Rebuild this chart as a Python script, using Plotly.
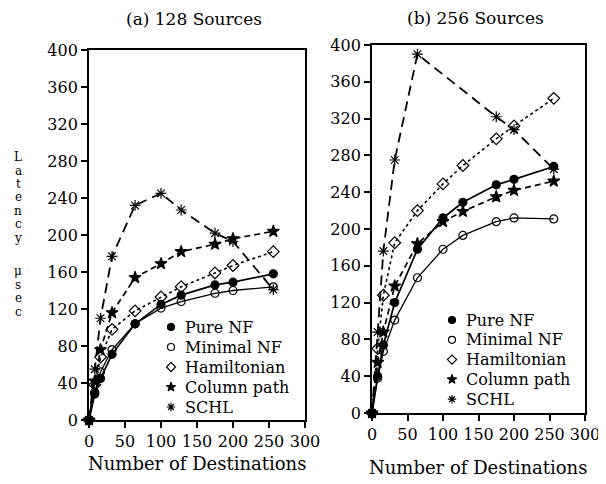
import plotly.graph_objects as go

# ---------------- data ----------------
destinations = [0, 8, 16, 32, 64, 100, 128, 175, 200, 256]

# (a) 128 sources
pure_nf_a = [0, 28, 45, 71, 104, 125, 135, 146, 149, 158]
minimal_nf_a = [0, 30, 52, 76, 104, 121, 128, 137, 140, 144]
hamiltonian_a = [0, 38, 68, 98, 118, 133, 144, 159, 167, 182]
column_path_a = [0, 42, 76, 116, 154, 169, 182, 190, 196, 204]
schl_a = [0, 55, 110, 177, 232, 245, 227, 202, 193, 141]

# (b) 256 sources
pure_nf_b = [0, 40, 74, 120, 178, 212, 229, 248, 254, 268]
minimal_nf_b = [0, 38, 67, 101, 147, 178, 193, 208, 212, 211]
hamiltonian_b = [0, 70, 128, 185, 220, 249, 269, 298, 312, 342]
column_path_b = [0, 55, 88, 138, 184, 208, 219, 235, 242, 252]
schl_b = [0, 88, 176, 275, 390, None, None, 322, 308, 265]

series_names = ["Pure NF", "Minimal NF", "Hamiltonian", "Column path", "SCHL"]
x_ticks = [0, 50, 100, 150, 200, 250, 300]
y_ticks = [0, 40, 80, 120, 160, 200, 240, 280, 320, 360, 400]
panel_titles = ["(a) 128 Sources", "(b) 256 Sources"]
x_title = "Number of Destinations"
y_title_top = "Latency"
y_title_bottom = "μsec"

# ---------------- styles ----------------
FONT = "DejaVu Serif"
styles = {
    "Pure NF": dict(symbol="circle", dash="solid", width=1.7, size=8),
    "Minimal NF": dict(symbol="circle-open", dash="solid", width=1.3, size=8),
    "Hamiltonian": dict(symbol="diamond-open", dash="dot", width=1.6, size=9),
    "Column path": dict(symbol="star", dash="6px,4px", width=1.7, size=9),
    "SCHL": dict(symbol="asterisk-open", dash="10px,6px", width=1.8, size=9),
}

# page body has an 8px margin: figure is sized to fill the rest of the window
PAGE_W, PAGE_H, OFF = 606, 484, 8
W, H = PAGE_W - OFF, PAGE_H - OFF


def px(xp):
    return (xp - OFF) / W


def py(yp):
    return 1 - (yp - OFF) / H


fig = go.Figure()

panels = [
    ("x", "y", [pure_nf_a, minimal_nf_a, hamiltonian_a, column_path_a, schl_a]),
    ("x2", "y2", [pure_nf_b, minimal_nf_b, hamiltonian_b, column_path_b, schl_b]),
]

for xa, ya, data in panels:
    for name, vals in zip(series_names, data):
        st = styles[name]
        fig.add_trace(go.Scatter(
            x=destinations, y=vals, xaxis=xa, yaxis=ya,
            mode="lines+markers", connectgaps=True, showlegend=False,
            line=dict(color="black", width=st["width"], dash=st["dash"]),
            marker=dict(symbol=st["symbol"], size=st["size"], color="black",
                        line=dict(color="black", width=1.2)),
            cliponaxis=False, name=name,
        ))

# ---------------- manual legends (pixel overlay axis) ----------------
legend_layouts = [
    dict(mx=171, tx=183, y0=327, dy=20),
    dict(mx=452, tx=464, y0=320, dy=19.8),
]
for lg in legend_layouts:
    for i, name in enumerate(series_names):
        st = styles[name]
        yy = lg["y0"] + i * lg["dy"]
        fig.add_trace(go.Scatter(
            x=[lg["mx"] - OFF], y=[yy - OFF], xaxis="x3", yaxis="y3", mode="markers",
            showlegend=False, hoverinfo="skip",
            marker=dict(symbol=st["symbol"], size=7, color="black",
                        line=dict(color="black", width=1.2)),
        ))
        fig.add_annotation(text=name, x=px(lg["tx"]), y=py(yy), xref="paper",
                           yref="paper", showarrow=False, xanchor="left",
                           yanchor="middle",
                           font=dict(family=FONT, size=16, color="black"))

axis_common = dict(
    showgrid=False, zeroline=False, showline=True, linecolor="black",
    linewidth=1.8, mirror=True, ticks="outside", ticklen=6, tickwidth=1.5,
    tickcolor="black", tickfont=dict(family=FONT, size=16, color="black"),
    automargin=False,
)

fig.update_layout(
    width=W, height=H,
    margin=dict(l=0, r=0, t=0, b=0, autoexpand=False),
    paper_bgcolor="white", plot_bgcolor="rgba(0,0,0,0)",
    font=dict(family=FONT, color="black"),
    showlegend=False,
    xaxis=dict(domain=[px(89), px(305)], range=[0, 300], tickvals=x_ticks,
               anchor="y", **axis_common),
    yaxis=dict(domain=[py(420), py(50)], range=[0, 400], tickvals=y_ticks,
               anchor="x", **axis_common),
    xaxis2=dict(domain=[px(372), px(585)], range=[0, 300], tickvals=x_ticks,
                anchor="y2", **axis_common),
    yaxis2=dict(domain=[py(413), py(45)], range=[0, 400], tickvals=y_ticks,
                anchor="x2", **axis_common),
    xaxis3=dict(domain=[0, 1], range=[0, W], visible=False, anchor="y3",
                fixedrange=True),
    yaxis3=dict(domain=[0, 1], range=[H, 0], visible=False, anchor="x3",
                fixedrange=True),
)

annotations = [
    dict(text=panel_titles[0], x=194, y=19, size=17),
    dict(text=panel_titles[1], x=475, y=18, size=17),
    dict(text=x_title, x=197, y=463, size=18),
    dict(text=x_title, x=478, y=467, size=18),
]
for a in annotations:
    fig.add_annotation(text=a["text"], x=px(a["x"]), y=py(a["y"]), xref="paper",
                       yref="paper", showarrow=False, xanchor="center",
                       yanchor="middle",
                       font=dict(family=FONT, size=a["size"], color="black"))

# stacked vertical y-axis label
for i, ch in enumerate(y_title_top):
    fig.add_annotation(text=ch, x=px(18), y=py(157 + i * 13.5), xref="paper",
                       yref="paper", showarrow=False, xanchor="center", yanchor="middle",
                       font=dict(family=FONT, size=12, color="black"))
for i, ch in enumerate(y_title_bottom):
    fig.add_annotation(text=ch, x=px(18), y=py(271 + i * 13.5), xref="paper",
                       yref="paper", showarrow=False, xanchor="center", yanchor="middle",
                       font=dict(family=FONT, size=12, color="black"))

fig.write_html("out.html")
